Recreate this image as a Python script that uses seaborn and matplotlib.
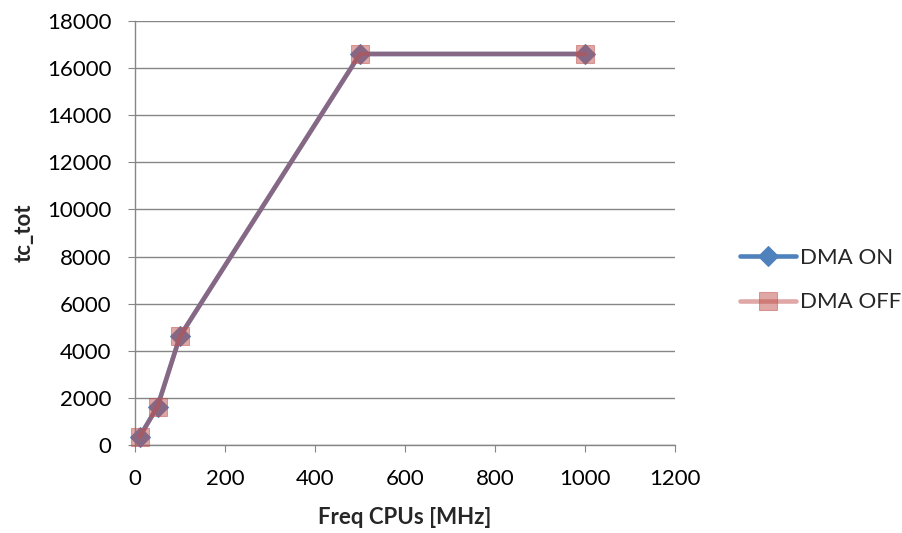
import matplotlib
matplotlib.use("Agg")
import matplotlib.pyplot as plt
import seaborn as sns
import pandas as pd

freq_mhz = [10, 50, 100, 500, 1000]
dma_on = [340, 1630, 4620, 16600, 16600]
dma_off = [340, 1630, 4620, 16600, 16600]

sns.set_style("white")
plt.rcParams["font.family"] = ["Lato", "DejaVu Sans"]

df = pd.DataFrame({"freq": freq_mhz * 2,
                   "tc": dma_on + dma_off,
                   "series": ["DMA ON"] * len(freq_mhz) + ["DMA OFF"] * len(freq_mhz)})

fig = plt.figure(figsize=(9.02, 5.33), dpi=100)
ax = fig.add_axes([135 / 902, 88 / 533, 540 / 902, 424 / 533])

sns.lineplot(data=df[df.series == "DMA ON"], x="freq", y="tc", ax=ax,
             color="#4F81BD", linewidth=3.3, marker="D", markersize=10,
             markeredgecolor="#4F81BD", label="DMA ON", zorder=3)
sns.lineplot(data=df[df.series == "DMA OFF"], x="freq", y="tc", ax=ax,
             color="#C0504D", alpha=0.5, linewidth=3.3, marker="s", markersize=13.5,
             markeredgecolor="#C0504D", label="DMA OFF", zorder=4)

ax.set_xticks(range(0, 1201, 200))
ax.set_yticks(range(0, 18001, 2000))
ax.set_xlim(0, 1200)
ax.set_ylim(0, 18000)

ax.grid(axis="y", color="#868686", linewidth=1)
ax.set_axisbelow(True)
for s in ["top", "right"]:
    ax.spines[s].set_visible(False)
for s in ["left", "bottom"]:
    ax.spines[s].set_color("#868686")
    ax.spines[s].set_linewidth(1)
ax.tick_params(axis="both", direction="out", length=5, color="#868686",
               labelsize=16, labelcolor="black", left=True, bottom=True)
ax.tick_params(axis="x", pad=12)
ax.tick_params(axis="y", pad=12)

ax.set_xlabel("Freq CPUs [MHz]", fontsize=16, fontweight="bold", labelpad=13)
ax.set_ylabel("tc_tot", fontsize=16, fontweight="bold", labelpad=9)

for line in ax.lines:
    line.set_clip_on(False)

ax.legend(loc="center left", bbox_to_anchor=(1.104, 0.389), borderaxespad=0,
          frameon=False, fontsize=16, handlelength=2.5, labelspacing=1.1,
          handletextpad=0.2)

fig.savefig("out.png", dpi=100)
